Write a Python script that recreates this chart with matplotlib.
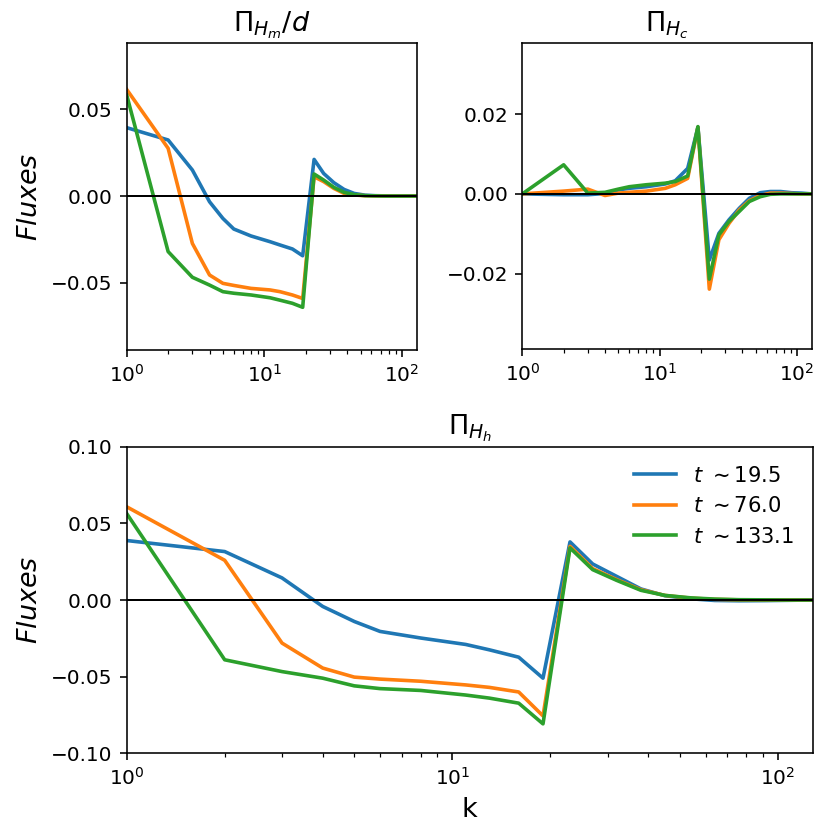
import numpy as np
import matplotlib
matplotlib.use("Agg")
import matplotlib.pyplot as plt

# wavenumber shells
k = [1, 2, 3, 4, 5, 6, 8, 11, 13, 16, 19, 23, 27, 32, 38, 45, 54, 64, 76, 91, 108, 128]

times = ["19.5", "76.0", "133.1"]

# Pi_Hm / d
pi_hm_1 = [0.0394, 0.0323, 0.0150, -0.0033, -0.0129, -0.0190, -0.0230, -0.0263, -0.0282, -0.0305, -0.0344,
           0.0211, 0.0130, 0.0077, 0.0038, 0.0015, 0.0005, 0.0002, 0.0001, 0.0, 0.0, 0.0]
pi_hm_2 = [0.0614, 0.0275, -0.0273, -0.0455, -0.0503, -0.0515, -0.0532, -0.0541, -0.0551, -0.0570, -0.0590,
           0.0111, 0.0083, 0.0044, 0.0015, 0.0006, 0.0002, 0.0001, 0.0, 0.0, 0.0, 0.0]
pi_hm_3 = [0.0582, -0.0320, -0.0468, -0.0513, -0.0551, -0.0560, -0.0570, -0.0586, -0.0600, -0.0618, -0.0641,
           0.0127, 0.0092, 0.0050, 0.0021, 0.0008, 0.0002, 0.0001, 0.0, 0.0, 0.0, 0.0]

# Pi_Hc
pi_hc_1 = [0.0, -0.0002, -0.0002, 0.0001, 0.0010, 0.0014, 0.0018, 0.0025, 0.0033, 0.0064, 0.0167,
           -0.0166, -0.0099, -0.0065, -0.0036, -0.0011, 0.0003, 0.0006, 0.0006, 0.0003, 0.0002, 0.0]
pi_hc_2 = [0.0, 0.0007, 0.0012, -0.0004, 0.0002, 0.0004, 0.0007, 0.0014, 0.0023, 0.0039, 0.0167,
           -0.0239, -0.0115, -0.0074, -0.0040, -0.0017, -0.0004, 0.0002, 0.0002, 0.0001, 0.0, 0.0]
pi_hc_3 = [0.0, 0.0073, 0.0002, 0.0004, 0.0012, 0.0018, 0.0023, 0.0027, 0.0031, 0.0045, 0.0169,
           -0.0214, -0.0103, -0.0069, -0.0044, -0.0019, -0.0007, -0.0001, 0.0, 0.0, 0.0, 0.0]

# Pi_Hh
pi_hh_1 = [0.0388, 0.0316, 0.0144, -0.0042, -0.0140, -0.0205, -0.0248, -0.0290, -0.0325, -0.0373, -0.0510,
           0.0379, 0.0235, 0.0154, 0.0072, 0.0028, 0.0008, -0.0003, -0.0005, -0.0004, -0.0002, 0.0]
pi_hh_2 = [0.0608, 0.0259, -0.0281, -0.0444, -0.0503, -0.0516, -0.0530, -0.0554, -0.0570, -0.0600, -0.0756,
           0.0350, 0.0205, 0.0133, 0.0067, 0.0030, 0.0012, 0.0004, 0.0001, 0.0, 0.0, 0.0]
pi_hh_3 = [0.0564, -0.0390, -0.0467, -0.0510, -0.0560, -0.0578, -0.0590, -0.0620, -0.0640, -0.0673, -0.0808,
           0.0340, 0.0198, 0.0128, 0.0063, 0.0030, 0.0014, 0.0006, 0.0002, 0.0001, 0.0, 0.0]

colors = ["#1f77b4", "#ff7f0e", "#2ca02c"]

W = 830.0
fig = plt.figure(figsize=(W / 144, W / 144), dpi=144)


def px_axes(x0, y0, x1, y1):
    # pixel box (top-left origin) -> figure fraction
    return fig.add_axes([x0 / W, 1 - y1 / W, (x1 - x0) / W, (y1 - y0) / W])


ax1 = px_axes(126.7, 43.3, 416.7, 350.0)
ax2 = px_axes(522.3, 43.3, 811.7, 349.3)
ax3 = px_axes(126.7, 446.7, 812.7, 753.3)

LW = 1.8
for c, y in zip(colors, [pi_hm_1, pi_hm_2, pi_hm_3]):
    ax1.plot(k, y, color=c, lw=LW)
for c, y in zip(colors, [pi_hc_1, pi_hc_2, pi_hc_3]):
    ax2.plot(k, y, color=c, lw=LW)
for c, y, t in zip(colors, [pi_hh_1, pi_hh_2, pi_hh_3], times):
    ax3.plot(k, y, color=c, lw=LW, label=r"$t\ \sim$" + t)

for ax in (ax1, ax2, ax3):
    ax.set_xscale("log")
    ax.set_xlim(1, 128)
    ax.axhline(0, color="k", lw=1)

ax1.set_ylim(-0.0887, 0.088)
ax1.set_yticks([-0.05, 0.0, 0.05])
ax1.set_title(r"$\Pi_{H_m}/d$", fontsize=13.5)
ax1.set_ylabel(r"$Fluxes$", fontsize=13.5)

ax2.set_ylim(-0.039, 0.0378)
ax2.set_yticks([-0.02, 0.0, 0.02])
ax2.set_title(r"$\Pi_{H_c}$", fontsize=13.5)

ax3.set_ylim(-0.1, 0.1)
ax3.set_yticks([-0.10, -0.05, 0.0, 0.05, 0.10])
ax3.set_title(r"$\Pi_{H_h}$", fontsize=13.5)
ax3.set_ylabel(r"$Fluxes$", fontsize=13.5)
ax3.set_xlabel("k", fontsize=13.5)
ax3.legend(loc="upper right", frameon=False, fontsize=10.5)

fig.savefig("out.png", dpi=144)
